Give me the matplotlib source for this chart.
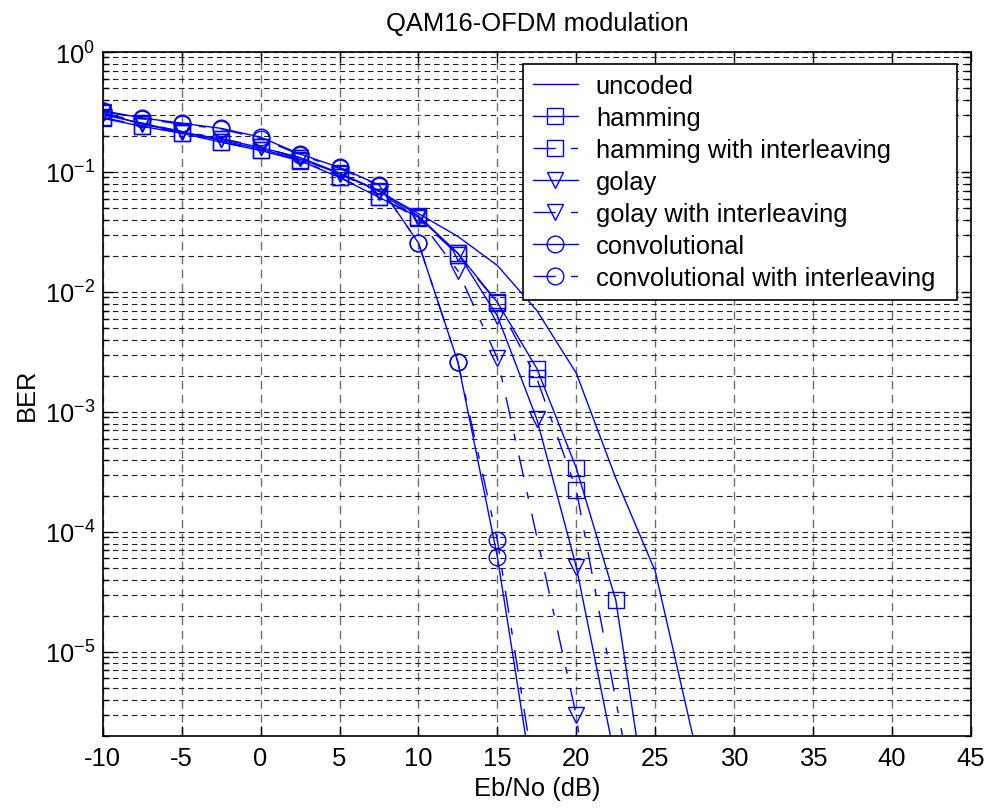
import numpy as np
import matplotlib
matplotlib.use("Agg")
from matplotlib import pyplot as plt
from matplotlib.ticker import LogLocator, MultipleLocator, NullFormatter

FS = 18.4
plt.rcParams["font.family"] = ["Liberation Sans", "DejaVu Sans"]
plt.rcParams["font.size"] = FS
plt.rcParams["axes.unicode_minus"] = False
plt.rcParams["mathtext.fontset"] = "custom"
plt.rcParams["mathtext.rm"] = "Liberation Sans"
plt.rcParams["mathtext.it"] = "Liberation Sans"

nan = np.nan

# Eb/No points (dB); nan = no point plotted (zero errors)
ebno = [-10, -7.5, -5, -2.5, 0, 2.5, 5, 7.5, 10, 12.5, 15, 17.5, 20, 22.5, 25, 27.5]

uncoded = [0.30, 0.255, 0.215, 0.183, 0.155, 0.128, 0.097, 0.069, 0.045, 0.029,
           0.0166, 0.0070, 0.0021, 2.8e-4, 4.7e-5, 1.7e-6]
hamming = [0.28, 0.24, 0.21, 0.177, 0.151, 0.124, 0.090, 0.0615, 0.042, 0.021,
           0.0082, 0.0023, 3.4e-4, 2.7e-5, 1.8e-7, nan]
hamming_il = [0.285, 0.243, 0.212, 0.178, 0.152, 0.125, 0.091, 0.062, 0.041, 0.0205,
              0.0081, 0.0019, 2.24e-4, nan, 7e-8, nan]
golay = [0.31, 0.25, 0.215, 0.188, 0.160, 0.132, 0.098, 0.070, 0.043, 0.021,
         0.0063, 8.7e-4, 5.1e-5, 1.2e-6, nan, nan]
golay_il = [0.314, 0.255, 0.218, 0.190, 0.162, 0.130, 0.096, 0.068, 0.041, 0.015,
            0.0028, nan, 2.95e-6, 1e-8, nan, nan]
conv = [0.324, 0.282, 0.255, 0.231, 0.195, 0.141, 0.109, 0.078, 0.0256, 0.0026,
        6.2e-5, 5e-7, nan, nan, nan, nan]
conv_il = [0.32, 0.278, 0.25, 0.228, 0.19, 0.139, 0.107, 0.077, 0.0256, 0.0026,
           8.5e-5, 7e-7, nan, nan, nan, nan]

labels = ["uncoded", "hamming", "hamming with interleaving", "golay",
          "golay with interleaving", "convolutional", "convolutional with interleaving"]
series = [uncoded, hamming, hamming_il, golay, golay_il, conv, conv_il]
markers = ["None", "s", "s", "v", "v", "o", "o"]
dashdot = (0, (16, 11, 5, 11))
styles = ["-", "-", dashdot, "-", dashdot, "-", dashdot]

fig = plt.figure(figsize=(9.9, 8.12), dpi=100)
ax = fig.add_axes([102.7 / 990, (812 - 736.7) / 812, 868.3 / 990, 683.7 / 812])

x = np.array(ebno)
for vals, lab, mk, ls in zip(series, labels, markers, styles):
    y = np.array(vals)
    ok = ~np.isnan(y)
    ax.semilogy(x[ok], y[ok], color="#0000ff", linestyle=ls, linewidth=1.0,
                marker=mk, markersize=12, markerfacecolor="none",
                markeredgewidth=1.0, label=lab)

ax.set_xlim(-10, 45)
ax.set_ylim(2e-6, 1)
ax.xaxis.set_major_locator(MultipleLocator(5))
ax.set_yticks(10.0 ** np.arange(-5, 1))
ax.yaxis.set_minor_locator(LogLocator(base=10, subs=np.arange(2, 10), numticks=20))
ax.yaxis.set_minor_formatter(NullFormatter())

ax.tick_params(which="both", direction="in", top=True, right=True, width=1.0)
ax.tick_params(which="major", length=7)
ax.tick_params(which="minor", length=4)
ax.tick_params(axis="x", pad=7.5)
ax.tick_params(axis="y", pad=5.5)

ax.grid(axis="x", which="major", color="#707070", linestyle=(0, (6, 4)), linewidth=1.0)
ax.grid(axis="y", which="both", color="#202020", linestyle=(0, (5, 3.5)), linewidth=0.8)
for sp in ax.spines.values():
    sp.set_linewidth(1.2)

ax.set_title("QAM16-OFDM modulation", fontsize=FS, pad=15.5)
ax.set_xlabel("Eb/No (dB)", fontsize=FS, labelpad=4)
ax.set_ylabel("BER", fontsize=FS, labelpad=4)

# legend box stretched to the reference width
leg = ax.legend(loc="upper left", bbox_to_anchor=(0.4837, 0, 0.4998, 0.9824),
                mode="expand", numpoints=1, fancybox=False, framealpha=1,
                edgecolor="black", fontsize=FS, handlelength=1.76,
                handletextpad=0.7, labelspacing=0.31, borderpad=0.4,
                borderaxespad=0)
leg.get_frame().set_linewidth(1.2)

fig.savefig("out.png", dpi=100)
